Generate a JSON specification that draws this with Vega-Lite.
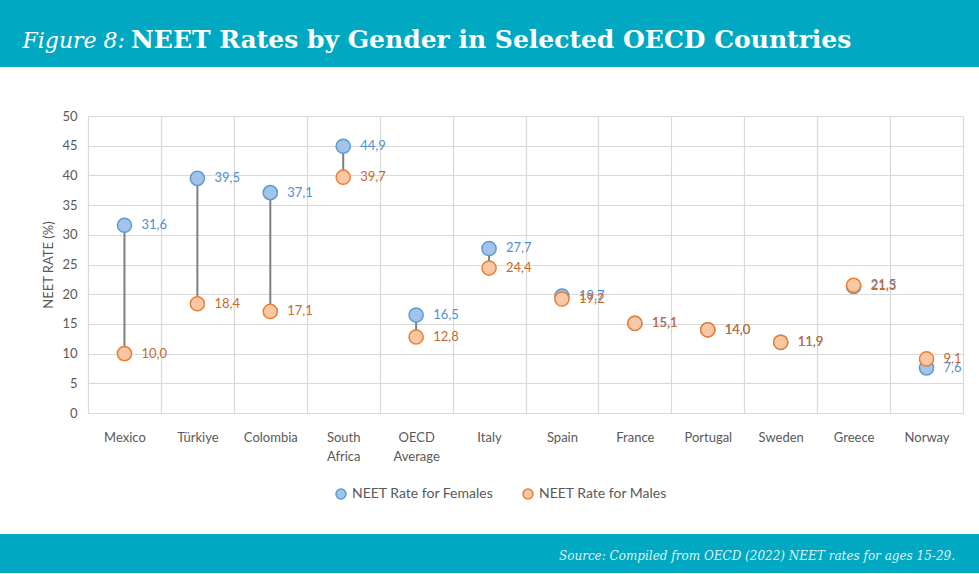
{
  "$schema": "https://vega.github.io/schema/vega-lite/v6.json",
  "background": "white",
  "padding": 0,
  "spacing": 0,
  "resolve": {"scale": {"fill": "independent", "stroke": "independent"}},
  "config": {
    "view": {"stroke": null},
    "font": "Lato",
    "locale": {
      "number": {"decimal": ",", "thousands": ".", "grouping": [3], "currency": ["", " €"]}
    }
  },
  "vconcat": [
    {
      "spacing": 0,
      "hconcat": [
        {
          "width": 128,
          "height": 67,
          "view": {"fill": "#00a9c1", "stroke": null},
          "data": {"values": []},
          "mark": "text",
          "encoding": {},
          "title": {
            "text": "Figure 8:",
            "orient": "top",
            "anchor": "end",
            "frame": "group",
            "offset": -70,
            "dx": -3,
            "baseline": "alphabetic",
            "font": "DejaVu Serif",
            "fontStyle": "italic",
            "fontWeight": "normal",
            "fontSize": 22,
            "color": "white"
          }
        },
        {
          "width": 851,
          "height": 67,
          "view": {"fill": "#00a9c1", "stroke": null},
          "data": {"values": []},
          "mark": "text",
          "encoding": {},
          "title": {
            "text": "NEET Rates by Gender in Selected OECD Countries",
            "orient": "top",
            "anchor": "start",
            "frame": "group",
            "offset": -73,
            "dx": 3,
            "baseline": "alphabetic",
            "font": "DejaVu Serif",
            "fontStyle": "normal",
            "fontWeight": "bold",
            "fontSize": 25,
            "color": "white"
          }
        }
      ]
    },
    {
      "spacing": 32,
      "resolve": {"scale": {"fill": "independent", "stroke": "independent"}},
      "vconcat": [
        {
          "spacing": 0,
          "resolve": {"scale": {"fill": "independent", "stroke": "independent"}},
          "hconcat": [
            {
              "width": 42,
              "height": 297,
              "view": {"stroke": null},
              "data": {"values": []},
              "mark": "text",
              "encoding": {}
            },
            {
              "width": 875,
              "height": 297,
              "title": {"text": " ", "fontSize": 1, "offset": 42},
              "data": {
                "values": [
                  {"country": "Mexico", "NEET Rate for Females": 31.6, "NEET Rate for Males": 10.0},
                  {"country": "Türkiye", "NEET Rate for Females": 39.5, "NEET Rate for Males": 18.4},
                  {"country": "Colombia", "NEET Rate for Females": 37.1, "NEET Rate for Males": 17.1},
                  {"country": "South Africa", "NEET Rate for Females": 44.9, "NEET Rate for Males": 39.7},
                  {"country": "OECD Average", "NEET Rate for Females": 16.5, "NEET Rate for Males": 12.8},
                  {"country": "Italy", "NEET Rate for Females": 27.7, "NEET Rate for Males": 24.4},
                  {"country": "Spain", "NEET Rate for Females": 19.7, "NEET Rate for Males": 19.2},
                  {"country": "France", "NEET Rate for Females": 15.1, "NEET Rate for Males": 15.1},
                  {"country": "Portugal", "NEET Rate for Females": 14.0, "NEET Rate for Males": 14.0},
                  {"country": "Sweden", "NEET Rate for Females": 11.9, "NEET Rate for Males": 11.9},
                  {"country": "Greece", "NEET Rate for Females": 21.3, "NEET Rate for Males": 21.5},
                  {"country": "Norway", "NEET Rate for Females": 7.6, "NEET Rate for Males": 9.1}
                ]
              },
              "encoding": {
                "x": {
                  "field": "country",
                  "type": "nominal",
                  "sort": null,
                  "scale": {"paddingInner": 0, "paddingOuter": 0},
                  "axis": {
                    "title": null,
                    "labelAngle": 0,
                    "labelFontSize": 13,
                    "labelColor": "#595959",
                    "labelPadding": 18,
                    "labelLineHeight": 19,
                    "labelBaseline": "top",
                    "labelExpr": "split(datum.label, ' ')",
                    "tickBand": "extent",
                    "ticks": false,
                    "domain": false,
                    "grid": true,
                    "gridColor": "#d9d9d9",
                    "gridWidth": 1.2
                  }
                }
              },
              "layer": [
                {
                  "mark": {"type": "rule", "color": "#7f7f7f", "strokeWidth": 2},
                  "encoding": {
                    "y": {
                      "field": "NEET Rate for Females",
                      "type": "quantitative",
                      "title": "NEET RATE (%)",
                      "scale": {"domain": [0, 50], "nice": false},
                      "axis": {
                        "values": [0, 5, 10, 15, 20, 25, 30, 35, 40, 45, 50],
                        "domain": false,
                        "ticks": false,
                        "tickSize": 0,
                        "labelPadding": 11,
                        "labelFontSize": 13,
                        "labelColor": "#595959",
                        "titleFontSize": 13,
                        "titleFontWeight": "normal",
                        "titleColor": "#595959",
                        "titlePadding": 6,
                        "gridColor": "#d9d9d9",
                        "gridWidth": 1.2
                      }
                    },
                    "y2": {"field": "NEET Rate for Males"}
                  }
                },
                {
                  "transform": [{"fold": ["NEET Rate for Females", "NEET Rate for Males"], "as": ["series", "rate"]}],
                  "mark": {"type": "circle", "size": 200, "opacity": 1, "strokeWidth": 1.5},
                  "encoding": {
                    "y": {
                      "field": "rate",
                      "type": "quantitative",
                      "title": "NEET RATE (%)",
                      "scale": {"domain": [0, 50], "nice": false},
                      "axis": {
                        "values": [0, 5, 10, 15, 20, 25, 30, 35, 40, 45, 50],
                        "domain": false,
                        "ticks": false,
                        "tickSize": 0,
                        "labelPadding": 11,
                        "labelFontSize": 13,
                        "labelColor": "#595959",
                        "titleFontSize": 13,
                        "titleFontWeight": "normal",
                        "titleColor": "#595959",
                        "titlePadding": 6,
                        "gridColor": "#d9d9d9",
                        "gridWidth": 1.2
                      }
                    },
                    "fill": {
                      "field": "series",
                      "type": "nominal",
                      "scale": {"domain": ["NEET Rate for Females", "NEET Rate for Males"], "range": ["#a3c4ea", "#f8c8a6"]},
                      "legend": {
                        "title": null,
                        "orient": "none",
                        "legendX": 246,
                        "legendY": 371,
                        "direction": "horizontal",
                        "labelFontSize": 14,
                        "labelColor": "#595959",
                        "symbolSize": 100,
                        "symbolStrokeWidth": 1.5,
                        "columnPadding": 26
                      }
                    },
                    "stroke": {
                      "field": "series",
                      "type": "nominal",
                      "scale": {"domain": ["NEET Rate for Females", "NEET Rate for Males"], "range": ["#5b9bd5", "#ed7d31"]},
                      "legend": {
                        "title": null,
                        "orient": "none",
                        "legendX": 246,
                        "legendY": 371,
                        "direction": "horizontal",
                        "labelFontSize": 14,
                        "labelColor": "#595959",
                        "symbolSize": 100,
                        "symbolStrokeWidth": 1.5,
                        "columnPadding": 26
                      }
                    }
                  }
                },
                {
                  "transform": [{"fold": ["NEET Rate for Females", "NEET Rate for Males"], "as": ["series", "rate"]}],
                  "mark": {"type": "text", "align": "left", "baseline": "middle", "dx": 17, "fontSize": 13},
                  "encoding": {
                    "y": {
                      "field": "rate",
                      "type": "quantitative",
                      "title": "NEET RATE (%)",
                      "scale": {"domain": [0, 50], "nice": false},
                      "axis": {
                        "values": [0, 5, 10, 15, 20, 25, 30, 35, 40, 45, 50],
                        "domain": false,
                        "ticks": false,
                        "tickSize": 0,
                        "labelPadding": 11,
                        "labelFontSize": 13,
                        "labelColor": "#595959",
                        "titleFontSize": 13,
                        "titleFontWeight": "normal",
                        "titleColor": "#595959",
                        "titlePadding": 6,
                        "gridColor": "#d9d9d9",
                        "gridWidth": 1.2
                      }
                    },
                    "text": {"field": "rate", "type": "quantitative", "format": ".1f"},
                    "color": {
                      "condition": {"test": "datum.series === 'NEET Rate for Females'", "value": "#4f8fd0"},
                      "value": "#c8692a"
                    }
                  }
                }
              ]
            }
          ]
        },
        {
          "width": 979,
          "height": 39,
          "view": {"fill": "#00a9c1", "stroke": null},
          "data": {"values": []},
          "mark": "text",
          "encoding": {},
          "title": {
            "text": "Source: Compiled from OECD (2022) NEET rates for ages 15-29.",
            "orient": "top",
            "anchor": "end",
            "frame": "group",
            "offset": -38,
            "dx": -24,
            "baseline": "alphabetic",
            "font": "DejaVu Serif",
            "fontStyle": "italic",
            "fontWeight": "normal",
            "fontSize": 12,
            "color": "#dff2f5"
          }
        }
      ]
    }
  ]
}
